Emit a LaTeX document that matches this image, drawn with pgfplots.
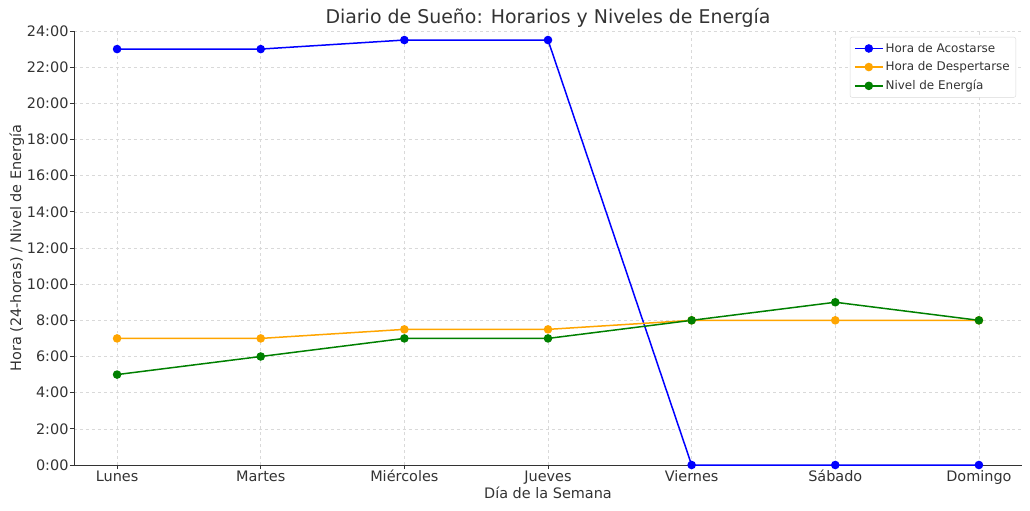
\documentclass[border=0pt]{standalone}
\usepackage{pgfplots}
\pgfplotsset{compat=1.18}
\usepackage{fontspec}
\setmainfont{DejaVu Sans}
\definecolor{cblue}{RGB}{0,0,255}
\definecolor{corange}{RGB}{255,165,0}
\definecolor{cgreen}{RGB}{0,128,0}
\definecolor{txt}{RGB}{51,51,51}
\begin{document}
\begin{tikzpicture}[x=1bp,y=1bp]
\begin{axis}[
  at={(74bp,46bp)}, anchor=south west,
  scale only axis, width=948bp, height=434bp,
  xmin=-0.3, xmax=6.3, ymin=0, ymax=24,
  xtick={0,...,6},
  xticklabels={Lunes,Martes,Miércoles,Jueves,Viernes,Sábado,Domingo},
  ytick={0,2,...,24},
  yticklabels={0:00,2:00,4:00,6:00,8:00,10:00,12:00,14:00,16:00,18:00,20:00,22:00,24:00},
  axis lines=left, axis line style={-, draw=txt, line width=0.8bp},
  tick style={draw=txt, line width=0.8bp},
  tick align=outside, major tick length=4bp,
  ticklabel style={font=\fontsize{14.5}{16}\selectfont, text=txt},
  xticklabel style={text height=10bp, text depth=3bp, yshift=1bp},
  yticklabel style={xshift=2bp},
  grid=major, grid style={dashed, draw=gray!30, line width=0.6bp},
  title={Diario de Sueño: Horarios y Niveles de Energía},
  title style={font=\fontsize{19}{22}\selectfont, text=txt, yshift=-6bp},
  xlabel={Día de la Semana}, ylabel={Hora (24-horas) / Nivel de Energía},
  label style={font=\fontsize{14.5}{16}\selectfont, text=txt},
  xlabel style={yshift=4bp},
  ylabel style={yshift=-4bp},
  legend style={at={(1,1)}, anchor=north east, xshift=-6bp, yshift=-6bp,
    font=\fontsize{12}{14}\selectfont, text=txt, draw=gray!30, rounded corners=2bp,
    row sep=4bp, inner sep=4bp},
  legend cell align=left,
  legend image code/.code={\draw[line width=1.5bp, mark repeat=2, mark phase=2, mark size=3.5bp] plot coordinates {(0bp,0bp) (14bp,0bp) (28bp,0bp)};},
  every axis plot/.append style={line width=1.5bp, mark=*, mark size=3.5bp},
  clip=false,
]
\addplot[color=cblue, mark options={fill=cblue}] coordinates {(0,23) (1,23) (2,23.5) (3,23.5) (4,0) (5,0) (6,0)};
\addlegendentry{Hora de Acostarse}
\addplot[color=corange, mark options={fill=corange}] coordinates {(0,7) (1,7) (2,7.5) (3,7.5) (4,8) (5,8) (6,8)};
\addlegendentry{Hora de Despertarse}
\addplot[color=cgreen, mark options={fill=cgreen}] coordinates {(0,5) (1,6) (2,7) (3,7) (4,8) (5,9) (6,8)};
\addlegendentry{Nivel de Energía}
\end{axis}
\pgfresetboundingbox
\path[use as bounding box] (0,0) rectangle (1030bp,511bp);
\end{tikzpicture}
\end{document}
